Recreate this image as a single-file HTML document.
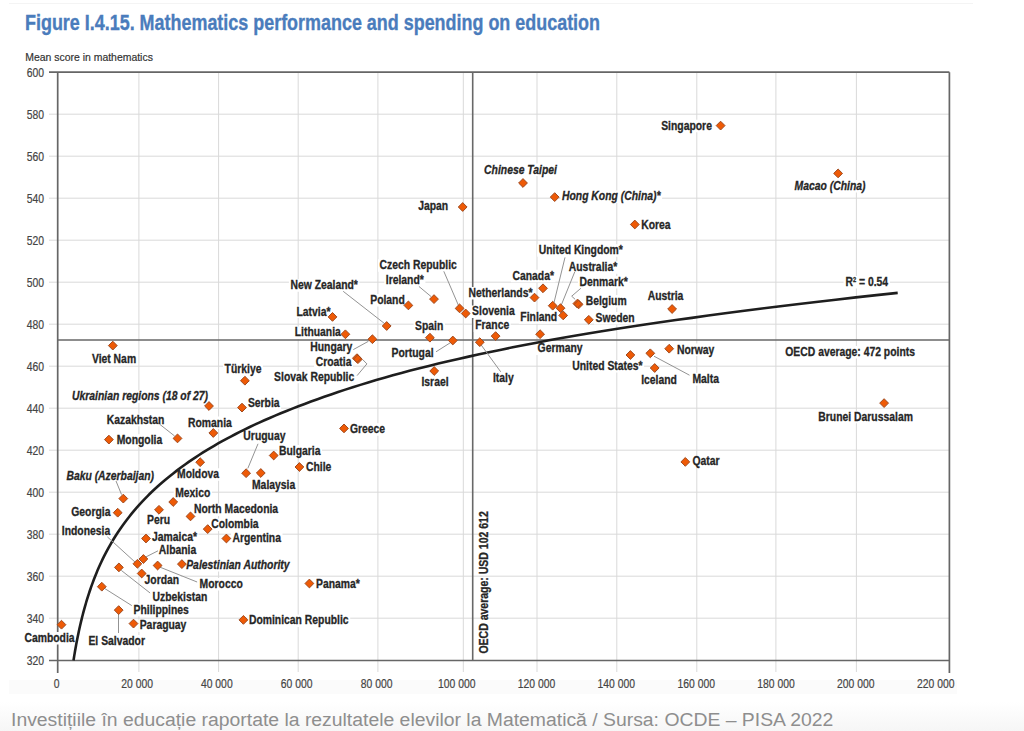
<!DOCTYPE html><html><head><meta charset="utf-8"><style>html,body{margin:0;padding:0;background:#fff;width:1024px;height:731px;overflow:hidden}svg{display:block}.l{font-family:"Liberation Sans",Arial,sans-serif;font-weight:bold;font-size:12.6px;fill:#262626;stroke:#262626;stroke-width:0.3px}.i{font-style:italic}.t{font-family:"Liberation Sans",Arial,sans-serif;font-size:12.7px;fill:#444;stroke:#444;stroke-width:0.2px}</style></head><body><svg width="1024" height="731" viewBox="0 0 1024 731"><defs><linearGradient id="cg" x1="0" y1="0" x2="0" y2="1"><stop offset="0" stop-color="#fff"/><stop offset="1" stop-color="#f6f6f6"/></linearGradient></defs><rect x="9" y="680" width="948" height="14" fill="#fbfbfb"/><rect x="0" y="702" width="1024" height="29" fill="url(#cg)"/><line x1="9" y1="3.5" x2="973" y2="3.5" stroke="#f4f4f4" stroke-width="1"/><text x="25" y="30.3" textLength="575" lengthAdjust="spacingAndGlyphs" style="font-family:'Liberation Sans',Arial,sans-serif;font-weight:bold;font-size:22px;fill:#4a7cbc;stroke:#4a7cbc;stroke-width:0.35px">Figure I.4.15. Mathematics performance and spending on education</text><text x="25.2" y="60.6" textLength="127.7" lengthAdjust="spacingAndGlyphs" style="font-family:'Liberation Sans',Arial,sans-serif;font-size:11.6px;fill:#333;stroke:#333;stroke-width:0.2px">Mean score in mathematics</text><path d="M49 114.2H949.4 M49 156.2H949.4 M49 198.2H949.4 M49 240.2H949.4 M49 282.2H949.4 M49 324.2H949.4 M49 366.2H949.4 M49 408.2H949.4 M49 450.2H949.4 M49 492.2H949.4 M49 534.2H949.4 M49 576.2H949.4 M49 618.2H949.4 M138.9 72.2V672 M218.6 72.2V672 M298.2 72.2V672 M377.9 72.2V672 M463.3 72.2V672 M537 72.2V672 M616.8 72.2V672 M696.8 72.2V672 M775.9 72.2V672 M856.4 72.2V672" stroke="#d9d9d9" stroke-width="1" fill="none"/><text class="t" transform="translate(44,76.6) scale(0.817,1)" text-anchor="end">600</text><text class="t" transform="translate(44,118.6) scale(0.817,1)" text-anchor="end">580</text><text class="t" transform="translate(44,160.6) scale(0.817,1)" text-anchor="end">560</text><text class="t" transform="translate(44,202.6) scale(0.817,1)" text-anchor="end">540</text><text class="t" transform="translate(44,244.6) scale(0.817,1)" text-anchor="end">520</text><text class="t" transform="translate(44,286.6) scale(0.817,1)" text-anchor="end">500</text><text class="t" transform="translate(44,328.6) scale(0.817,1)" text-anchor="end">480</text><text class="t" transform="translate(44,370.6) scale(0.817,1)" text-anchor="end">460</text><text class="t" transform="translate(44,412.6) scale(0.817,1)" text-anchor="end">440</text><text class="t" transform="translate(44,454.6) scale(0.817,1)" text-anchor="end">420</text><text class="t" transform="translate(44,496.6) scale(0.817,1)" text-anchor="end">400</text><text class="t" transform="translate(44,538.6) scale(0.817,1)" text-anchor="end">380</text><text class="t" transform="translate(44,580.6) scale(0.817,1)" text-anchor="end">360</text><text class="t" transform="translate(44,622.6) scale(0.817,1)" text-anchor="end">340</text><text class="t" transform="translate(44,664.6) scale(0.817,1)" text-anchor="end">320</text><text class="t" transform="translate(56.6,687.8) scale(0.817,1)" text-anchor="middle">0</text><text class="t" transform="translate(137.2,687.8) scale(0.817,1)" text-anchor="middle">20 000</text><text class="t" transform="translate(216.8,687.8) scale(0.817,1)" text-anchor="middle">40 000</text><text class="t" transform="translate(296.6,687.8) scale(0.817,1)" text-anchor="middle">60 000</text><text class="t" transform="translate(376.6,687.8) scale(0.817,1)" text-anchor="middle">80 000</text><text class="t" transform="translate(456.7,687.8) scale(0.817,1)" text-anchor="middle">100 000</text><text class="t" transform="translate(536.5,687.8) scale(0.817,1)" text-anchor="middle">120 000</text><text class="t" transform="translate(616.3,687.8) scale(0.817,1)" text-anchor="middle">140 000</text><text class="t" transform="translate(696.3,687.8) scale(0.817,1)" text-anchor="middle">160 000</text><text class="t" transform="translate(776,687.8) scale(0.817,1)" text-anchor="middle">180 000</text><text class="t" transform="translate(855.8,687.8) scale(0.817,1)" text-anchor="middle">200 000</text><text class="t" transform="translate(935.8,687.8) scale(0.817,1)" text-anchor="middle">220 000</text><path d="M49 72.2H949.4M57.7 72.2V673M49 660.5H949.4M949.4 72.2V673" stroke="#666" stroke-width="1.7" fill="none"/><path d="M57.7 340H949.4M472.7 72.2V660.5" stroke="#686868" stroke-width="1.6" fill="none"/><path d="M22.9 632.0h53.2v12.5h-53.2z M90.4 352.7h47.2v12.5h-47.2z M115.2 434.2h48.6v12.5h-48.6z M105.2 413.7h60.7v12.5h-60.7z M70.5 390.5h139.2v12.5h-139.2z M186.5 416.6h46.8v12.5h-46.8z M223.0 362.7h39.9v12.5h-39.9z M246.4 396.8h34.7v12.5h-34.7z M175.5 468.3h45.1v12.5h-45.1z M241.8 430.5h45.1v12.5h-45.1z M250.5 478.6h46.3v12.5h-46.3z M277.5 445.1h44.5v12.5h-44.5z M304.5 460.8h28.4v12.5h-28.4z M348.4 423.2h38.2v12.5h-38.2z M64.9 470.0h90.7v12.5h-90.7z M69.7 505.9h42.2v12.5h-42.2z M145.6 513.7h26.1v12.5h-26.1z M173.7 487.5h38.2v12.5h-38.2z M192.5 503.4h87.2v12.5h-87.2z M209.8 518.5h50.3v12.5h-50.3z M231.0 532.2h51.5v12.5h-51.5z M150.5 530.7h48.0v12.5h-48.0z M157.3 544.4h40.5v12.5h-40.5z M60.3 524.9h51.5v12.5h-51.5z M198.1 577.9h46.3v12.5h-46.3z M184.7 559.1h106.5v12.5h-106.5z M151.0 591.3h57.8v12.5h-57.8z M143.1 574.2h37.6v12.5h-37.6z M132.0 603.7h58.4v12.5h-58.4z M86.9 635.1h59.6v12.5h-59.6z M138.2 619.4h49.7v12.5h-49.7z M247.4 614.5h102.8v12.5h-102.8z M314.5 577.9h46.9v12.5h-46.9z M295.0 305.6h37.0v12.5h-37.0z M293.2 326.4h49.1v12.5h-49.1z M308.7 341.5h45.1v12.5h-45.1z M288.9 279.3h70.5v12.5h-70.5z M368.7 293.9h37.6v12.5h-37.6z M384.3 273.7h41.1v12.5h-41.1z M378.0 259.2h80.3v12.5h-80.3z M470.6 305.4h45.7v12.5h-45.7z M413.6 320.1h31.3v12.5h-31.3z M390.0 346.9h45.1v12.5h-45.1z M419.9 375.9h30.1v12.5h-30.1z M314.1 356.1h38.8v12.5h-38.8z M272.5 370.7h83.2v12.5h-83.2z M491.4 371.9h23.8v12.5h-23.8z M473.7 319.5h37.0v12.5h-37.0z M416.7 200.2h33.0v12.5h-33.0z M482.6 163.6h75.9v12.5h-75.9z M560.5 190.5h101.6v12.5h-101.6z M639.7 218.6h32.4v12.5h-32.4z M659.6 119.7h53.8v12.5h-53.8z M793.0 180.0h74.0v12.5h-74.0z M510.9 269.8h44.5v12.5h-44.5z M467.0 286.9h67.0v12.5h-67.0z M537.2 244.2h87.2v12.5h-87.2z M567.3 261.3h51.5v12.5h-51.5z M518.8 311.2h39.9v12.5h-39.9z M577.9 275.9h51.5v12.5h-51.5z M584.2 295.0h44.0v12.5h-44.0z M594.0 311.9h42.2v12.5h-42.2z M646.1 290.4h38.8v12.5h-38.8z M536.1 342.5h48.0v12.5h-48.0z M570.7 360.1h73.4v12.5h-73.4z M690.9 373.1h29.5v12.5h-29.5z M639.6 374.2h38.8v12.5h-38.8z M675.4 343.6h40.5v12.5h-40.5z M816.8 410.7h97.6v12.5h-97.6z M691.0 455.4h30.1v12.5h-30.1z M783.8 346.0h132.8v12.5h-132.8z" fill="#fff"/><path d="M73.50 660.50 L73.86 658.19 L74.23 655.89 L74.61 653.59 L75.00 651.29 L75.40 648.99 L75.81 646.69 L76.23 644.39 L76.66 642.09 L77.11 639.79 L77.56 637.49 L78.03 635.19 L78.50 632.89 L79.00 630.59 L79.50 628.29 L80.01 625.99 L80.54 623.69 L81.09 621.39 L81.65 619.09 L82.22 616.79 L82.81 614.49 L83.41 612.19 L84.03 609.89 L84.66 607.60 L85.31 605.30 L85.98 603.00 L86.66 600.70 L87.36 598.40 L88.08 596.11 L88.82 593.81 L89.58 591.51 L90.36 589.22 L91.16 586.92 L91.98 584.62 L92.82 582.33 L93.68 580.03 L94.56 577.74 L95.47 575.44 L96.40 573.15 L97.36 570.85 L98.34 568.56 L99.34 566.26 L100.37 563.98 L101.43 561.70 L102.52 559.43 L103.63 557.16 L104.77 554.89 L105.95 552.62 L107.15 550.35 L108.38 548.08 L109.65 545.81 L110.95 543.54 L112.28 541.28 L113.65 539.01 L115.05 536.75 L116.49 534.49 L117.96 532.23 L119.48 529.97 L121.03 527.71 L122.63 525.45 L124.26 523.19 L125.94 520.94 L127.66 518.68 L129.43 516.43 L131.24 514.17 L133.10 511.90 L135.01 509.63 L136.96 507.37 L138.97 505.10 L141.03 502.84 L143.14 500.57 L145.31 498.31 L147.54 496.05 L149.82 493.79 L152.16 491.53 L154.56 489.27 L157.03 487.02 L159.55 484.76 L162.15 482.51 L164.81 480.26 L167.54 478.01 L170.34 475.75 L173.21 473.44 L176.16 471.14 L179.19 468.83 L182.29 466.53 L185.47 464.22 L188.74 461.92 L192.09 459.61 L195.53 457.30 L199.06 455.00 L202.68 452.69 L206.39 450.39 L210.20 448.08 L214.11 445.78 L218.12 443.47 L222.23 441.17 L226.45 438.86 L230.78 436.55 L235.22 434.25 L239.78 431.92 L244.46 429.59 L249.25 427.27 L254.18 424.94 L259.23 422.61 L264.41 420.28 L269.72 417.95 L275.17 415.62 L280.77 413.29 L286.51 410.96 L292.40 408.62 L298.44 406.29 L304.63 403.93 L310.99 401.55 L317.52 399.17 L324.21 396.79 L331.08 394.41 L338.12 392.03 L345.35 389.64 L352.77 387.26 L360.37 384.87 L368.18 382.48 L376.19 380.08 L384.40 377.69 L392.83 375.29 L401.48 372.90 L410.35 370.58 L419.45 368.25 L428.79 365.93 L438.37 363.61 L448.20 361.28 L458.28 358.95 L468.63 356.63 L479.25 354.30 L490.14 351.97 L501.31 349.65 L512.77 347.32 L524.53 344.99 L536.60 342.66 L548.97 340.33 L561.67 338.07 L574.70 335.81 L588.07 333.56 L601.78 331.31 L615.85 329.06 L630.29 326.81 L645.10 324.57 L660.29 322.32 L675.88 320.08 L691.87 317.84 L708.28 315.58 L725.12 313.31 L742.39 311.03 L760.10 308.76 L778.28 306.49 L796.93 304.22 L816.07 301.95 L835.70 299.68 L855.84 297.41 L876.50 295.16 L897.70 292.91" stroke="#1e1e1e" stroke-width="2.6" fill="none" stroke-linejoin="round"/><path d="M160 424.5 L174.6 436 M116 481 L121.5 494.5 M107.4 536.9 L135.5 562.5 M158 550.8 L144.6 557.6 M159.3 566.9 L197.1 582 M121.3 570.4 L150.1 593 M102 586.8 L131.8 605.6 M118.5 614 L118.5 633 M258 443.8 L247.8 468.4 M353.3 349.6 L368.4 341.3 M362.8 359.7 L366.9 363.9 L357.1 375.6 M343.2 291.3 L384.7 323.7 M418.9 286.4 L431.1 296.6 M443.8 271.3 L459.2 307.1 M436 351.8 L450.7 342.5 M481.2 345 L500.7 371.8 M565 257.4 L554 302.6 M574.7 272 L561.3 305 M580.8 288.3 L571.7 296.2 L575.1 299.3 M654 356.2 L689.5 375.2" stroke="#939393" stroke-width="1" fill="none"/><path d="M61.5 620.30L65.90 624.7L61.5 629.10L57.10 624.7Z M112.8 341.20L117.20 345.6L112.8 350.00L108.40 345.6Z M108.9 435.20L113.30 439.6L108.9 444.00L104.50 439.6Z M177.5 434.00L181.90 438.4L177.5 442.80L173.10 438.4Z M209 401.60L213.40 406L209 410.40L204.60 406Z M213.3 428.60L217.70 433L213.3 437.40L208.90 433Z M244.9 376.30L249.30 380.7L244.9 385.10L240.50 380.7Z M242 403.20L246.40 407.6L242 412.00L237.60 407.6Z M200.2 457.80L204.60 462.2L200.2 466.60L195.80 462.2Z M246.1 468.80L250.50 473.2L246.1 477.60L241.70 473.2Z M260.8 468.60L265.20 473L260.8 477.40L256.40 473Z M273.7 451.10L278.10 455.5L273.7 459.90L269.30 455.5Z M299.4 462.60L303.80 467L299.4 471.40L295.00 467Z M344 424.00L348.40 428.4L344 432.80L339.60 428.4Z M123.3 494.20L127.70 498.6L123.3 503.00L118.90 498.6Z M117.7 508.30L122.10 512.7L117.7 517.10L113.30 512.7Z M159 505.40L163.40 509.8L159 514.20L154.60 509.8Z M173.2 497.60L177.60 502L173.2 506.40L168.80 502Z M190.5 512.00L194.90 516.4L190.5 520.80L186.10 516.4Z M207.7 524.70L212.10 529.1L207.7 533.50L203.30 529.1Z M226.4 534.10L230.80 538.5L226.4 542.90L222.00 538.5Z M146 534.10L150.40 538.5L146 542.90L141.60 538.5Z M143.4 554.60L147.80 559L143.4 563.40L139.00 559Z M137.4 559.40L141.80 563.8L137.4 568.20L133.00 563.8Z M157.6 561.10L162.00 565.5L157.6 569.90L153.20 565.5Z M181.9 559.70L186.30 564.1L181.9 568.50L177.50 564.1Z M118.9 563.00L123.30 567.4L118.9 571.80L114.50 567.4Z M141.7 569.10L146.10 573.5L141.7 577.90L137.30 573.5Z M101.8 582.30L106.20 586.7L101.8 591.10L97.40 586.7Z M118.7 605.70L123.10 610.1L118.7 614.50L114.30 610.1Z M133.5 619.20L137.90 623.6L133.5 628.00L129.10 623.6Z M243.4 615.50L247.80 619.9L243.4 624.30L239.00 619.9Z M309.4 579.10L313.80 583.5L309.4 587.90L305.00 583.5Z M332.5 312.50L336.90 316.9L332.5 321.30L328.10 316.9Z M345.4 329.90L349.80 334.3L345.4 338.70L341.00 334.3Z M372.4 334.80L376.80 339.2L372.4 343.60L368.00 339.2Z M386.7 321.60L391.10 326L386.7 330.40L382.30 326Z M408.4 301.00L412.80 305.4L408.4 309.80L404.00 305.4Z M434 294.70L438.40 299.1L434 303.50L429.60 299.1Z M459.6 304.00L464.00 308.4L459.6 312.80L455.20 308.4Z M465.7 309.10L470.10 313.5L465.7 317.90L461.30 313.5Z M429.9 333.30L434.30 337.7L429.9 342.10L425.50 337.7Z M452.8 336.10L457.20 340.5L452.8 344.90L448.40 340.5Z M434.2 366.60L438.60 371L434.2 375.40L429.80 371Z M357.9 354.80L362.30 359.2L357.9 363.60L353.50 359.2Z M356.9 353.80L361.30 358.2L356.9 362.60L352.50 358.2Z M479.8 337.80L484.20 342.2L479.8 346.60L475.40 342.2Z M495.6 331.70L500.00 336.1L495.6 340.50L491.20 336.1Z M462.7 202.60L467.10 207L462.7 211.40L458.30 207Z M523 178.60L527.40 183L523 187.40L518.60 183Z M554.7 192.70L559.10 197.1L554.7 201.50L550.30 197.1Z M634.8 220.10L639.20 224.5L634.8 228.90L630.40 224.5Z M720.6 121.20L725.00 125.6L720.6 130.00L716.20 125.6Z M838.1 169.00L842.50 173.4L838.1 177.80L833.70 173.4Z M543 283.90L547.40 288.3L543 292.70L538.60 288.3Z M534.5 293.20L538.90 297.6L534.5 302.00L530.10 297.6Z M552.7 301.30L557.10 305.7L552.7 310.10L548.30 305.7Z M560.5 303.80L564.90 308.2L560.5 312.60L556.10 308.2Z M563.2 311.00L567.60 315.4L563.2 319.80L558.80 315.4Z M577.4 299.20L581.80 303.6L577.4 308.00L573.00 303.6Z M578.6 300.00L583.00 304.4L578.6 308.80L574.20 304.4Z M588.8 315.40L593.20 319.8L588.8 324.20L584.40 319.8Z M672.1 304.60L676.50 309L672.1 313.40L667.70 309Z M540.1 329.80L544.50 334.2L540.1 338.60L535.70 334.2Z M630.4 350.60L634.80 355L630.4 359.40L626.00 355Z M650.3 348.90L654.70 353.3L650.3 357.70L645.90 353.3Z M654.7 363.60L659.10 368L654.7 372.40L650.30 368Z M669.2 344.30L673.60 348.7L669.2 353.10L664.80 348.7Z M884.1 398.70L888.50 403.1L884.1 407.50L879.70 403.1Z M685.3 457.50L689.70 461.9L685.3 466.30L680.90 461.9Z" fill="#ee5a06" stroke="#a04c22" stroke-width="1"/><text class="l" transform="translate(24.4,641.9) scale(0.824,1)" text-anchor="start">Cambodia</text><text class="l" transform="translate(114,362.6) scale(0.824,1)" text-anchor="middle">Viet Nam</text><text class="l" transform="translate(116.7,444.1) scale(0.824,1)" text-anchor="start">Mongolia</text><text class="l" transform="translate(106.7,423.6) scale(0.824,1)" text-anchor="start">Kazakhstan</text><text class="l i" transform="translate(72,400.4) scale(0.824,1)" text-anchor="start">Ukrainian regions (18 of 27)</text><text class="l" transform="translate(188,426.5) scale(0.824,1)" text-anchor="start">Romania</text><text class="l" transform="translate(243,372.6) scale(0.824,1)" text-anchor="middle">Türkiye</text><text class="l" transform="translate(247.9,406.7) scale(0.824,1)" text-anchor="start">Serbia</text><text class="l" transform="translate(177,478.2) scale(0.824,1)" text-anchor="start">Moldova</text><text class="l" transform="translate(264.4,440.4) scale(0.824,1)" text-anchor="middle">Uruguay</text><text class="l" transform="translate(273.6,488.5) scale(0.824,1)" text-anchor="middle">Malaysia</text><text class="l" transform="translate(279,455.0) scale(0.824,1)" text-anchor="start">Bulgaria</text><text class="l" transform="translate(306,470.7) scale(0.824,1)" text-anchor="start">Chile</text><text class="l" transform="translate(349.9,433.1) scale(0.824,1)" text-anchor="start">Greece</text><text class="l i" transform="translate(66.4,479.9) scale(0.824,1)" text-anchor="start">Baku (Azerbaijan)</text><text class="l" transform="translate(110.4,515.8) scale(0.824,1)" text-anchor="end">Georgia</text><text class="l" transform="translate(158.6,523.6) scale(0.824,1)" text-anchor="middle">Peru</text><text class="l" transform="translate(175.2,497.4) scale(0.824,1)" text-anchor="start">Mexico</text><text class="l" transform="translate(194,513.3) scale(0.824,1)" text-anchor="start">North Macedonia</text><text class="l" transform="translate(211.3,528.4) scale(0.824,1)" text-anchor="start">Colombia</text><text class="l" transform="translate(232.5,542.1) scale(0.824,1)" text-anchor="start">Argentina</text><text class="l" transform="translate(152,540.6) scale(0.824,1)" text-anchor="start">Jamaica*</text><text class="l" transform="translate(158.8,554.3) scale(0.824,1)" text-anchor="start">Albania</text><text class="l" transform="translate(61.8,534.8) scale(0.824,1)" text-anchor="start">Indonesia</text><text class="l" transform="translate(199.6,587.8) scale(0.824,1)" text-anchor="start">Morocco</text><text class="l i" transform="translate(186.2,569.0) scale(0.824,1)" text-anchor="start">Palestinian Authority</text><text class="l" transform="translate(152.5,601.2) scale(0.824,1)" text-anchor="start">Uzbekistan</text><text class="l" transform="translate(144.6,584.1) scale(0.824,1)" text-anchor="start">Jordan</text><text class="l" transform="translate(133.5,613.6) scale(0.824,1)" text-anchor="start">Philippines</text><text class="l" transform="translate(116.7,645.0) scale(0.824,1)" text-anchor="middle">El Salvador</text><text class="l" transform="translate(139.7,629.3) scale(0.824,1)" text-anchor="start">Paraguay</text><text class="l" transform="translate(248.9,624.4) scale(0.824,1)" text-anchor="start">Dominican Republic</text><text class="l" transform="translate(316,587.8) scale(0.824,1)" text-anchor="start">Panama*</text><text class="l" transform="translate(330.5,315.5) scale(0.824,1)" text-anchor="end">Latvia*</text><text class="l" transform="translate(340.8,336.3) scale(0.824,1)" text-anchor="end">Lithuania</text><text class="l" transform="translate(352.3,351.4) scale(0.824,1)" text-anchor="end">Hungary</text><text class="l" transform="translate(357.9,289.2) scale(0.824,1)" text-anchor="end">New Zealand*</text><text class="l" transform="translate(404.8,303.8) scale(0.824,1)" text-anchor="end">Poland</text><text class="l" transform="translate(404.8,283.6) scale(0.824,1)" text-anchor="middle">Ireland*</text><text class="l" transform="translate(418.2,269.1) scale(0.824,1)" text-anchor="middle">Czech Republic</text><text class="l" transform="translate(472.1,315.3) scale(0.824,1)" text-anchor="start">Slovenia</text><text class="l" transform="translate(429.2,330.0) scale(0.824,1)" text-anchor="middle">Spain</text><text class="l" transform="translate(433.6,356.8) scale(0.824,1)" text-anchor="end">Portugal</text><text class="l" transform="translate(435,385.8) scale(0.824,1)" text-anchor="middle">Israel</text><text class="l" transform="translate(351.4,366.0) scale(0.824,1)" text-anchor="end">Croatia</text><text class="l" transform="translate(354.2,380.6) scale(0.824,1)" text-anchor="end">Slovak Republic</text><text class="l" transform="translate(503.3,381.8) scale(0.824,1)" text-anchor="middle">Italy</text><text class="l" transform="translate(492.2,329.4) scale(0.824,1)" text-anchor="middle">France</text><text class="l" transform="translate(448.2,210.1) scale(0.824,1)" text-anchor="end">Japan</text><text class="l i" transform="translate(520.5,173.5) scale(0.824,1)" text-anchor="middle">Chinese Taipei</text><text class="l i" transform="translate(562,200.4) scale(0.824,1)" text-anchor="start">Hong Kong (China)*</text><text class="l" transform="translate(641.2,228.5) scale(0.824,1)" text-anchor="start">Korea</text><text class="l" transform="translate(711.9,129.6) scale(0.824,1)" text-anchor="end">Singapore</text><text class="l i" transform="translate(830,189.9) scale(0.824,1)" text-anchor="middle">Macao (China)</text><text class="l" transform="translate(533.2,279.7) scale(0.824,1)" text-anchor="middle">Canada*</text><text class="l" transform="translate(468.5,296.8) scale(0.824,1)" text-anchor="start">Netherlands*</text><text class="l" transform="translate(580.8,254.1) scale(0.824,1)" text-anchor="middle">United Kingdom*</text><text class="l" transform="translate(593,271.2) scale(0.824,1)" text-anchor="middle">Australia*</text><text class="l" transform="translate(557.2,321.1) scale(0.824,1)" text-anchor="end">Finland</text><text class="l" transform="translate(603.6,285.8) scale(0.824,1)" text-anchor="middle">Denmark*</text><text class="l" transform="translate(585.7,304.9) scale(0.824,1)" text-anchor="start">Belgium</text><text class="l" transform="translate(595.5,321.8) scale(0.824,1)" text-anchor="start">Sweden</text><text class="l" transform="translate(665.5,300.3) scale(0.824,1)" text-anchor="middle">Austria</text><text class="l" transform="translate(560.1,352.4) scale(0.824,1)" text-anchor="middle">Germany</text><text class="l" transform="translate(642.6,370.0) scale(0.824,1)" text-anchor="end">United States*</text><text class="l" transform="translate(692.4,383.0) scale(0.824,1)" text-anchor="start">Malta</text><text class="l" transform="translate(659,384.1) scale(0.824,1)" text-anchor="middle">Iceland</text><text class="l" transform="translate(676.9,353.5) scale(0.824,1)" text-anchor="start">Norway</text><text class="l" transform="translate(865.6,420.6) scale(0.824,1)" text-anchor="middle">Brunei Darussalam</text><text class="l" transform="translate(692.5,465.3) scale(0.824,1)" text-anchor="start">Qatar</text><text class="l" transform="translate(785.3,355.9) scale(0.824,1)" text-anchor="start">OECD average: 472 points</text><rect x="843.5" y="276" width="46.5" height="12.5" fill="#fff"/><text class="l" transform="translate(845.4,286.1) scale(0.824,1)">R<tspan font-size="7" dy="-4.5">2</tspan><tspan dy="4.5"> = 0.54</tspan></text><text class="l" transform="translate(488.3,653.6) rotate(-90)" textLength="142.4" lengthAdjust="spacingAndGlyphs">OECD average: USD 102 612</text><text x="11" y="725.8" textLength="822.4" lengthAdjust="spacingAndGlyphs" style="font-family:'Liberation Sans',Arial,sans-serif;font-size:18px;fill:#8e8e8e">Investițiile în educație raportate la rezultatele elevilor la Matematică / Sursa: OCDE – PISA 2022</text></svg></body></html>
